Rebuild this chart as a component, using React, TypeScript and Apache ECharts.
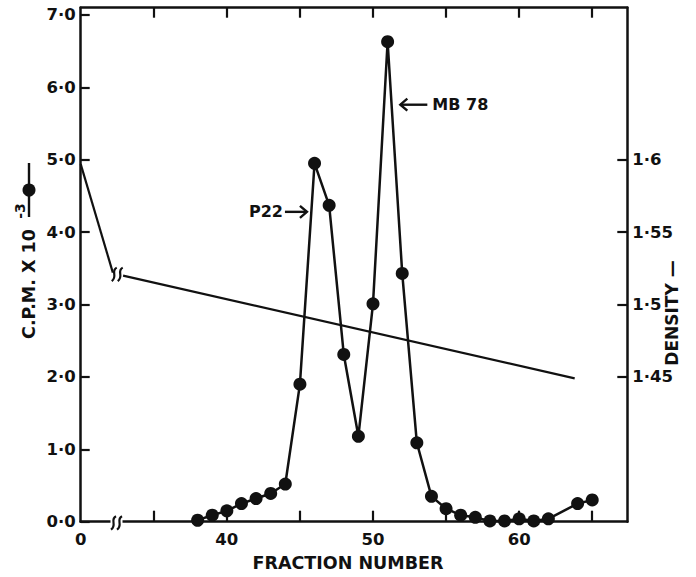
import React, { useEffect, useRef } from "react";
import * as echarts from "echarts";

// Fractions >= 35 are drawn shifted left by this amount (axis break after 0)
const FRACTION_OFFSET = 30;

const fractions = [38, 39, 40, 41, 42, 43, 44, 45, 46, 47, 48, 49, 50, 51, 52, 53, 54, 55, 56, 57, 58, 59, 60, 61, 62, 64, 65];
const cpmValues = [0.02, 0.09, 0.15, 0.25, 0.32, 0.39, 0.52, 1.9, 4.95, 4.37, 2.31, 1.18, 3.01, 6.63, 3.43, 1.09, 0.35, 0.18, 0.09, 0.06, 0.01, 0.01, 0.04, 0.01, 0.04, 0.25, 0.3];

// density gradient line (axis units: fraction number, density)
const densityBeforeBreakX = [0, 2.2];
const densityBeforeBreak = [1.597, 1.522];
const densityAfterBreakX = [32.9, 63.8];
const densityAfterBreak = [1.52, 1.449];

const xLabelValues = [0, 40, 50, 60];
const xTickValues = [35, 40, 45, 50, 55, 60, 65];
const cpmTicks = [0, 1, 2, 3, 4, 5, 6, 7];
const densityTicks = [1.45, 1.5, 1.55, 1.6];

const annotationP22 = { label: "P22", fraction: 45.48, cpm: 4.28 };
const annotationMB78 = { label: "MB 78", fraction: 51.87, cpm: 5.76 };

const toAxis = (f: number) => (f >= 20 ? f - FRACTION_OFFSET : f);

export default function App() {
  const ref = useRef<HTMLDivElement>(null);

  useEffect(() => {
    const el = ref.current;
    if (!el) return;
    const chart = echarts.init(el, null, { renderer: "svg" });
    const font = "'DejaVu Sans', sans-serif";
    const black = "#111";
    const mkAxisLine = () => ({ show: true, onZero: false, lineStyle: { color: black, width: 2.5 } });
    const tickStyle = { color: black, width: 2.2 };
    const labelFont = { fontFamily: font, fontWeight: "bold" as const, fontSize: 16.5, color: black };

    chart.setOption({
      animation: false,
      backgroundColor: "#fff",
      grid: { left: 80.7, right: 68.7, top: 7.7, bottom: 55.3 },
      xAxis: [
        {
          type: "value",
          position: "bottom",
          min: 0,
          max: 37.4,
          axisLine: mkAxisLine(),
          splitLine: { show: false },
          axisTick: {
            show: true,
            inside: true,
            length: 11,
            lineStyle: tickStyle,
            customValues: xTickValues.map(toAxis),
          },
          axisLabel: {
            ...labelFont,
            margin: 9,
            customValues: xLabelValues.map(toAxis),
            formatter: (v: number) => (v === 0 ? "0" : String(Math.round(v + FRACTION_OFFSET))),
          },
        },
        {
          type: "value",
          position: "top",
          min: 0,
          max: 37.4,
          axisLine: mkAxisLine(),
          splitLine: { show: false },
          axisTick: {
            show: true,
            inside: true,
            length: 10,
            lineStyle: tickStyle,
            customValues: xTickValues.map(toAxis),
          },
          axisLabel: { show: false },
        },
      ],
      yAxis: [
        {
          type: "value",
          position: "left",
          min: 0,
          max: 7.1,
          axisLine: mkAxisLine(),
          splitLine: { show: false },
          axisTick: { show: true, inside: true, length: 9, lineStyle: tickStyle, customValues: cpmTicks },
          axisLabel: {
            ...labelFont,
            margin: 5,
            customValues: cpmTicks,
            formatter: (v: number) => v.toFixed(1).replace(".", "·"),
          },
        },
        {
          type: "value",
          position: "right",
          min: 1.35,
          max: 1.705,
          axisLine: mkAxisLine(),
          splitLine: { show: false },
          axisTick: { show: true, inside: true, length: 10, lineStyle: tickStyle, customValues: densityTicks },
          axisLabel: {
            ...labelFont,
            margin: 5,
            customValues: densityTicks,
            formatter: (v: number) => String(v).replace(".", "·"),
          },
        },
      ],
      series: [
        {
          name: "Density (before break)",
          type: "line",
          xAxisIndex: 0,
          yAxisIndex: 1,
          symbol: "none",
          lineStyle: { color: black, width: 2.2 },
          data: densityBeforeBreakX.map((x, i) => [toAxis(x), densityBeforeBreak[i]]),
          z: 2,
        },
        {
          name: "Density (after break)",
          type: "line",
          xAxisIndex: 0,
          yAxisIndex: 1,
          symbol: "none",
          lineStyle: { color: black, width: 2.2 },
          data: densityAfterBreakX.map((x, i) => [toAxis(x), densityAfterBreak[i]]),
          z: 2,
        },
        {
          name: "C.P.M.",
          type: "line",
          xAxisIndex: 0,
          yAxisIndex: 0,
          symbol: "circle",
          symbolSize: 13,
          clip: false,
          lineStyle: { color: black, width: 2.5 },
          itemStyle: { color: black },
          data: fractions.map((f, i) => [toAxis(f), cpmValues[i]]),
          z: 3,
        },
      ],
    });

    const px = (x: number) => chart.convertToPixel({ xAxisIndex: 0 }, x) as number;
    const pyL = (y: number) => chart.convertToPixel({ yAxisIndex: 0 }, y) as number;
    const pyR = (y: number) => chart.convertToPixel({ yAxisIndex: 1 }, y) as number;

    const squiggle = (cx: number, cy: number) => ({
      type: "bezierCurve",
      z: 101,
      shape: {
        x1: cx + 2.5,
        y1: cy - 6.5,
        cpx1: cx - 4,
        cpy1: cy - 3,
        cpx2: cx + 4,
        cpy2: cy + 2,
        x2: cx - 2.5,
        y2: cy + 7,
      },
      style: { stroke: black, lineWidth: 2.2, fill: null },
    });

    // x axis break
    const bx = px(2.45);
    const by = pyL(0);
    // density line break
    const dbx = px(2.5);
    const dby = pyR(1.521);

    // annotations
    const p22x = px(toAxis(annotationP22.fraction));
    const p22y = pyL(annotationP22.cpm);
    const mbx = px(toAxis(annotationMB78.fraction));
    const mby = pyL(annotationMB78.cpm);

    const arrowHead = (tipX: number, tipY: number, dir: number) => ({
      type: "polyline",
      z: 101,
      shape: {
        points: [
          [tipX - dir * 7, tipY - 6],
          [tipX, tipY],
          [tipX - dir * 7, tipY + 6],
        ],
      },
      style: { stroke: black, lineWidth: 2.4, fill: null },
    });

    const textStyle = (extra: any) => ({
      fontFamily: font,
      fontWeight: "bold",
      fontSize: 16,
      fill: black,
      ...extra,
    });

    chart.setOption({
      graphic: [
        // x-axis break
        { type: "rect", z: 100, shape: { x: bx - 6, y: by - 3, width: 12, height: 6 }, style: { fill: "#fff" } },
        squiggle(bx - 3, by + 1),
        squiggle(bx + 3, by + 1),
        // density break
        squiggle(dbx - 3, dby),
        squiggle(dbx + 3, dby),
        // P22 annotation
        {
          type: "line",
          z: 101,
          shape: { x1: p22x - 22, y1: p22y, x2: p22x, y2: p22y },
          style: { stroke: black, lineWidth: 2.4 },
        },
        arrowHead(p22x, p22y, 1),
        {
          type: "text",
          z: 101,
          x: p22x - 24,
          y: p22y,
          style: textStyle({ text: annotationP22.label, align: "right", verticalAlign: "middle" }),
        },
        // MB 78 annotation
        {
          type: "line",
          z: 101,
          shape: { x1: mbx, y1: mby, x2: mbx + 27, y2: mby },
          style: { stroke: black, lineWidth: 2.4 },
        },
        arrowHead(mbx, mby, -1),
        {
          type: "text",
          z: 101,
          x: mbx + 32,
          y: mby,
          style: textStyle({ text: annotationMB78.label, align: "left", verticalAlign: "middle" }),
        },
        // left axis title
        {
          type: "text",
          z: 101,
          x: 29,
          y: 284,
          rotation: Math.PI / 2,
          style: textStyle({ text: "C.P.M. X 10", fontSize: 17.5, align: "center", verticalAlign: "middle" }),
        },
        {
          type: "text",
          z: 101,
          x: 20,
          y: 211,
          rotation: Math.PI / 2,
          style: textStyle({ text: "-3", fontSize: 14, align: "center", verticalAlign: "middle" }),
        },
        {
          type: "line",
          z: 101,
          shape: { x1: 29, y1: 163, x2: 29, y2: 217 },
          style: { stroke: black, lineWidth: 2.4 },
        },
        { type: "circle", z: 102, shape: { cx: 29, cy: 190, r: 6.5 }, style: { fill: black } },
        // right axis title
        {
          type: "text",
          z: 101,
          x: 672,
          y: 313,
          rotation: Math.PI / 2,
          style: textStyle({ text: "DENSITY —", fontSize: 17, align: "center", verticalAlign: "middle" }),
        },
        // x axis title
        {
          type: "text",
          z: 101,
          x: 348,
          y: 563,
          style: textStyle({ text: "FRACTION NUMBER", fontSize: 17.5, align: "center", verticalAlign: "middle" }),
        },
      ],
    });

    return () => chart.dispose();
  }, []);

  return (
    <div
      ref={ref}
      style={{ position: "fixed", left: 0, top: 0, width: 696, height: 577, background: "#fff" }}
    />
  );
}
